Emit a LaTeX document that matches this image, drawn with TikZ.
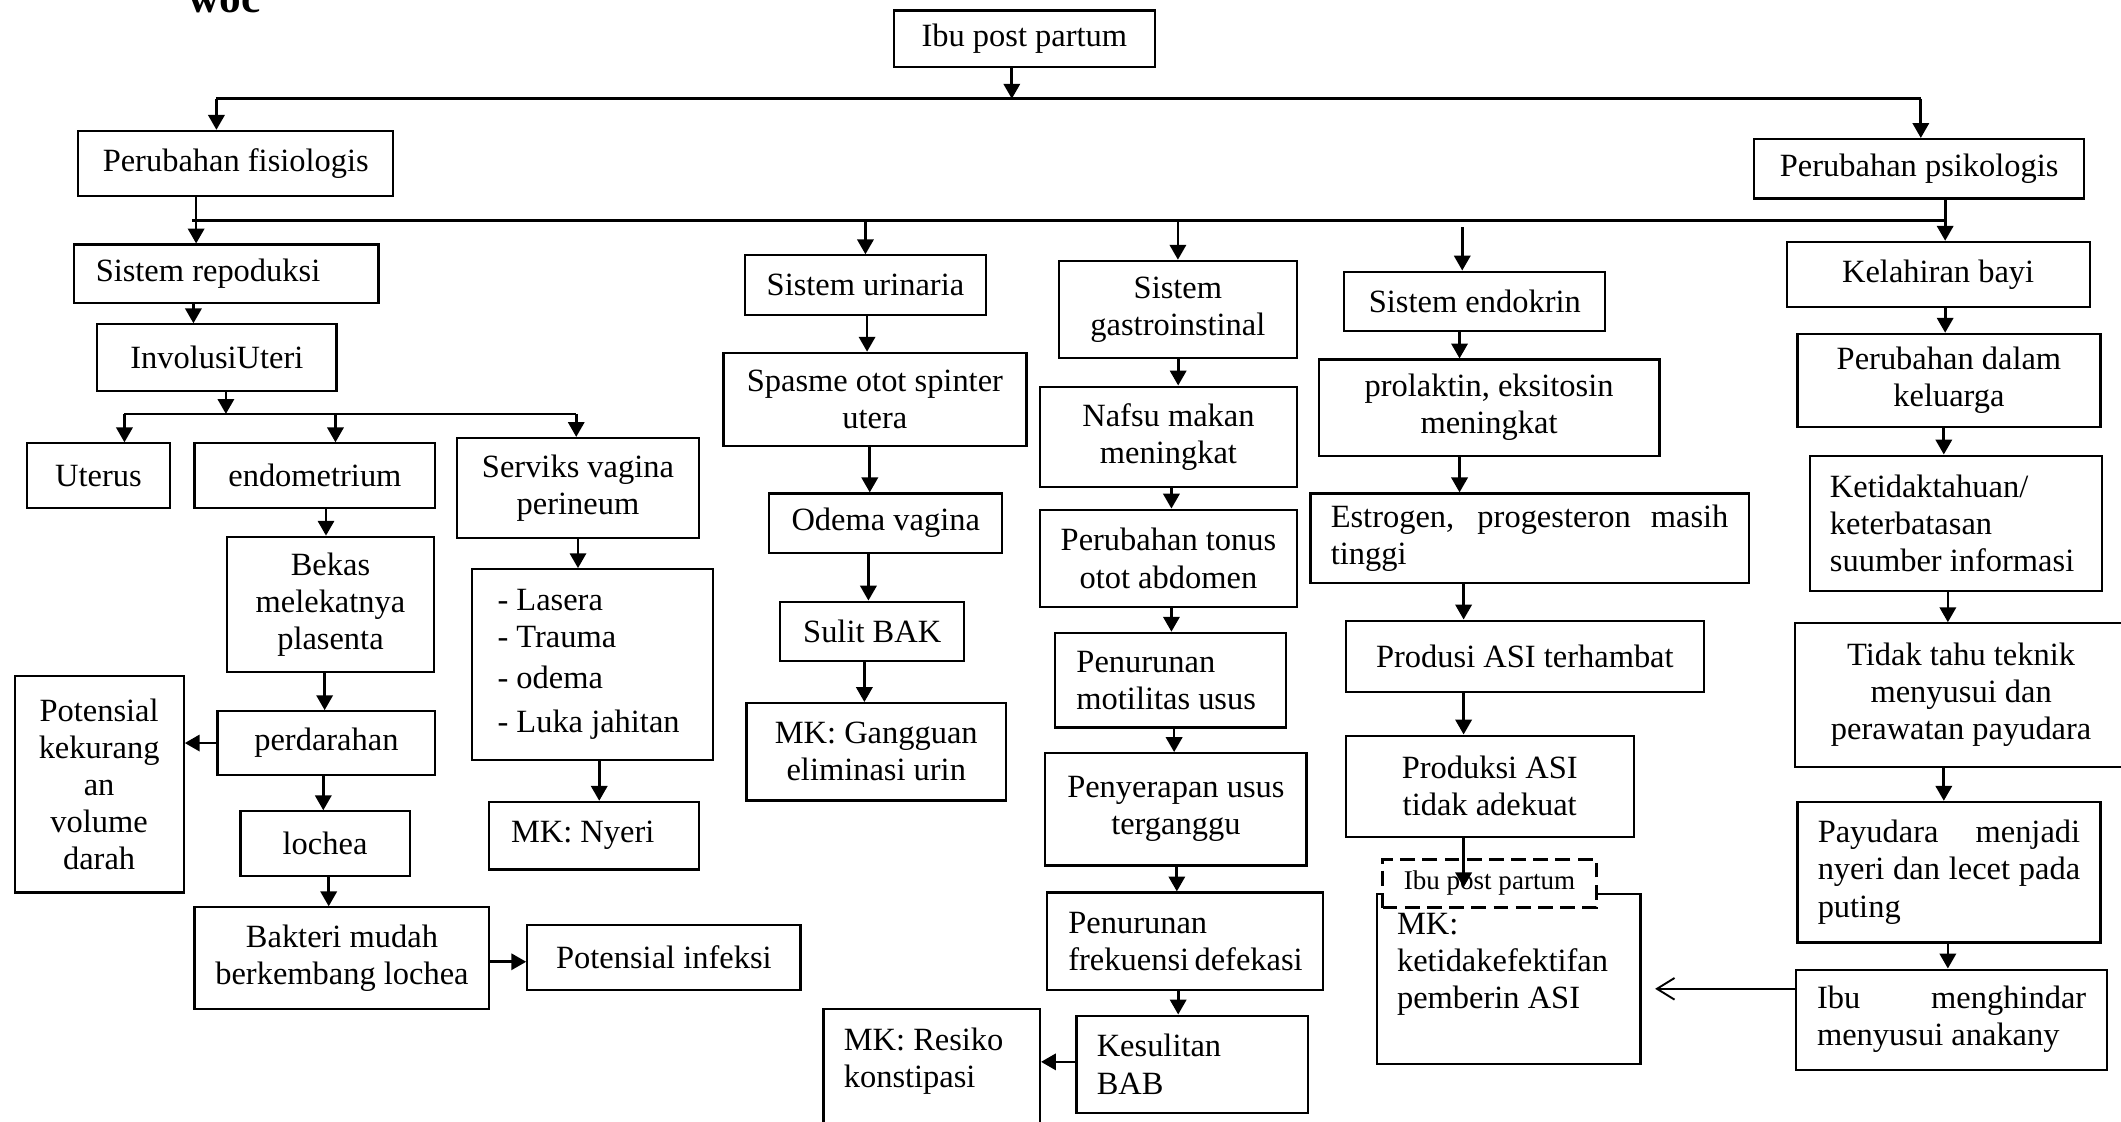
\documentclass[tikz,border=0pt]{standalone}
\usepackage{fontspec}
\setmainfont{Liberation Serif}
\usetikzlibrary{arrows.meta,positioning}
\hyphenpenalty=10000
\tolerance=10000

\begin{document}
\begin{tikzpicture}[
  x=0.5pt, y=-0.5pt,
  >={Triangle[length=5.5pt,width=6pt]},
  every node/.style={font=\fontsize{12}{13.7}\selectfont},
  box/.style={draw, line width=0.8pt, inner sep=0pt, align=center, anchor=north west},
  arr/.style={->, line width=1pt},
  bus/.style={line width=1pt},
  openarr/.style={-{Straight Barb[length=6.5pt,width=8pt]}, line width=0.7pt},
]
\useasboundingbox (0,0) rectangle (1568,829);

\node[font=\fontsize{16}{16}\selectfont\bfseries, anchor=base] (woc) at (166,9) {woc};

% top level
\node[box, minimum width=96.5pt, minimum height=21pt] (top) at (660,7) {Ibu post partum};
\node[box, minimum width=116.5pt, minimum height=24pt] (fis) at (57,96) {Perubahan fisiologis};
\node[box, minimum width=122pt, minimum height=22pt] (psi) at (1296,102) {Perubahan psikologis};

\coordinate (topdrop) at (748,73);
\coordinate (bus1L) at (160,73);
\coordinate (bus1R) at (1420,73);
\coordinate (bus2L) at (142,163);
\coordinate (bus2R) at (1438,163);
\coordinate (endoin) at (1081,168);

% systems
\node[box, align=flush left, inner xsep=8pt, text width=96.5pt, minimum width=112.5pt, minimum height=21.5pt] (srep) at (54,180) {Sistem repoduksi};
\node[box, minimum width=89pt, minimum height=22pt] (surin) at (550,188) {Sistem urinaria};
\node[box, minimum width=88pt, minimum height=36pt] (sgas) at (782,192) {Sistem\\gastroinstinal};
\node[box, minimum width=96.5pt, minimum height=22pt] (sendo) at (993,200) {Sistem endokrin};
\node[box, minimum width=112pt, minimum height=24pt] (kel) at (1320,178) {Kelahiran bayi};

% reproduksi
\node[box, minimum width=88.5pt, minimum height=24.5pt] (invol) at (71,239) {InvolusiUteri};
\coordinate (bus3L) at (92,306);
\coordinate (bus3M) at (167,306);
\coordinate (bus3R) at (426,306);
\node[box, minimum width=53pt, minimum height=24pt] (uterus) at (19,327) {Uterus};
\node[box, minimum width=89pt, minimum height=24pt] (endo) at (143,327) {endometrium};
\node[box, minimum width=89.5pt, minimum height=37pt] (serviks) at (337,323) {Serviks vagina\\perineum};
\node[box, minimum width=76.5pt, minimum height=50pt] (bekas) at (167,396) {Bekas\\melekatnya\\plasenta};
\node[box, align=flush left, inner xsep=9.5pt, text width=70pt, minimum width=89pt, minimum height=70.5pt] (list) at (348,420)
  {-~Lasera\\-~Trauma\\[1.3pt]-~odema\\[2.8pt]-~Luka~jahitan};
\node[box, minimum width=62.5pt, minimum height=80pt] (potkek) at (10,499) {Potensial\\kekurang\\an\\volume\\darah};
\node[box, minimum width=80.5pt, minimum height=23.5pt] (perd) at (160,525) {perdarahan};
\node[box, align=flush left, inner xsep=8pt, text width=61.5pt, minimum width=77.5pt, minimum height=25pt] (mknyeri) at (361,592) {MK:~Nyeri};
\node[box, minimum width=62.5pt, minimum height=24pt] (lochea) at (177,599) {lochea};
\node[box, minimum width=109pt, minimum height=37.5pt] (bakteri) at (143,670) {Bakteri mudah\\berkembang lochea};
\node[box, minimum width=101pt, minimum height=24pt] (potinf) at (389,683) {Potensial infeksi};

% urinaria
\node[box, minimum width=112pt, minimum height=34.5pt] (spasme) at (534,260) {Spasme otot spinter\\utera};
\node[box, minimum width=86pt, minimum height=22pt] (odema) at (568,364) {Odema vagina};
\node[box, minimum width=68pt, minimum height=22pt] (sulit) at (576,444) {Sulit BAK};
\node[box, minimum width=96pt, minimum height=36pt] (gang) at (551,519) {MK: Gangguan\\eliminasi urin};

% gastrointestinal
\node[box, minimum width=95pt, minimum height=37pt] (nafsu) at (768,285) {Nafsu makan\\meningkat};
\node[box, minimum width=95pt, minimum height=36pt] (tonus) at (768,376) {Perubahan tonus\\otot abdomen};
\node[box, align=flush left, inner xsep=8pt, text width=69.5pt, minimum width=85.5pt, minimum height=35pt] (motil) at (779,467) {Penurunan\\motilitas~usus};
\node[box, minimum width=96.5pt, minimum height=41.5pt] (penyer) at (772,556) {Penyerapan usus\\terganggu};
\node[box, align=flush left, inner xsep=8pt, text width=86pt, minimum width=102pt, minimum height=36pt] (frek) at (773,659) {Penurunan\\frekuensi~defekasi};
\node[box, align=flush left, inner xsep=7.5pt, text width=70.5pt, minimum width=85.5pt, minimum height=36pt] (kesulitan) at (795,750) {Kesulitan\\BAB};
\node[box, align=flush left, inner xsep=7.5pt, text width=65pt, minimum width=80pt, minimum height=50pt] (resiko) at (608,745) {MK:~Resiko\\konstipasi\\\mbox{}};

% endokrin
\node[box, minimum width=126pt, minimum height=35.5pt] (prol) at (974,265) {prolaktin, eksitosin\\meningkat};
\node[box, align=justify, inner xsep=7.5pt, text width=147pt, minimum width=162pt, minimum height=33pt] (estro) at (968,364) {Estrogen, progesteron masih tinggi};
\node[box, minimum width=132.5pt, minimum height=26.5pt] (produsi) at (994,458) {Produsi ASI terhambat};
\node[box, minimum width=106.5pt, minimum height=37.5pt] (produksi) at (994,543) {Produksi ASI\\tidak adekuat};
\node[box, align=flush left, inner xsep=7.5pt, text width=82.5pt, minimum width=97.5pt, minimum height=63pt] (mkasi) at (1017,660) {MK:\\ketidakefektifan\\pemberin~ASI\\\mbox{}};
\node[box, fill=white, dashed, dash pattern=on 5.5pt off 2.7pt, line width=1.1pt, font=\fontsize{10}{12}\selectfont,
  minimum width=79pt, minimum height=18pt] (dashbox) at (1021,634) {Ibu post partum};

% psikologis
\node[box, minimum width=112pt, minimum height=34.5pt] (pdk) at (1328,246) {Perubahan dalam\\keluarga};
\node[box, align=flush left, inner xsep=7.5pt, text width=93pt, minimum width=108pt, minimum height=50pt] (tahu) at (1337,336) {Ketidaktahuan/\\keterbatasan\\suumber~informasi};
\node[box, minimum width=123pt, minimum height=53pt] (tidak) at (1326,460) {Tidak tahu teknik\\menyusui dan\\perawatan payudara};
\node[box, align=justify, inner xsep=7.5pt, text width=97pt, minimum width=112pt, minimum height=52pt] (payu) at (1328,592) {Payudara menjadi nyeri dan lecet pada puting};
\node[box, align=justify, inner xsep=7.75pt, text width=99.5pt, minimum width=115pt, minimum height=37pt] (ibu) at (1327,716) {Ibu menghindar menyusui anakany};

% upper buses
\draw[arr] (top.south -| topdrop) -- (topdrop);
\draw[bus] (bus1L) -- (bus1R);
\draw[arr] (bus1L) -- (fis.north -| bus1L);
\draw[arr] (bus1R) -- (psi.north -| bus1R);
\draw[bus] (bus2L) -- (bus2R);
\draw[arr] (fis.south -| 145,0) -- (srep.north -| 145,0);
\draw[arr] (psi.south -| bus2R) -- (kel.north -| bus2R);
\draw[arr] (surin.north |- bus2L) -- (surin.north);
\draw[arr] (sgas.north |- bus2L) -- (sgas.north);
\draw[arr] (endoin) -- (sendo.north -| endoin);

% reproduksi flow
\draw[arr] (srep.south -| 143,0) -- (invol.north -| 143,0);
\draw[arr] (invol.south -| bus3M) -- (bus3M);
\draw[bus] (bus3L) -- (bus3R);
\draw[arr] (bus3L) -- (uterus.north -| bus3L);
\draw[arr] (bus3L -| 248,0) -- (endo.north -| 248,0);
\draw[arr] (bus3R) -- (serviks.north -| bus3R);
\draw[arr] (endo.south -| 241,0) -- (bekas.north -| 241,0);
\draw[arr] (bekas.south -| 240,0) -- (perd.north -| 240,0);
\draw[arr] (perd.west) -- (potkek.east |- perd.west);
\draw[arr] (perd.south -| 239,0) -- (lochea.north -| 239,0);
\draw[arr] (lochea.south -| 243,0) -- (bakteri.north -| 243,0);
\draw[arr] (bakteri.east |- 0,711) -- (potinf.west |- 0,711);
\draw[arr] (serviks.south) -- (serviks.south |- list.north);
\draw[arr] (list.south -| 443,0) -- (mknyeri.north -| 443,0);

% urinaria flow
\draw[arr] (surin.south -| 641,0) -- (spasme.north -| 641,0);
\draw[arr] (spasme.south -| 643,0) -- (odema.north -| 643,0);
\draw[arr] (odema.south -| 642,0) -- (sulit.north -| 642,0);
\draw[arr] (sulit.south -| 639,0) -- (gang.north -| 639,0);

% gastrointestinal flow
\draw[arr] (sgas.south -| 871,0) -- (nafsu.north -| 871,0);
\draw[arr] (nafsu.south -| 866,0) -- (tonus.north -| 866,0);
\draw[arr] (tonus.south -| 866,0) -- (motil.north -| 866,0);
\draw[arr] (motil.south -| 868,0) -- (penyer.north -| 868,0);
\draw[arr] (penyer.south -| 870,0) -- (frek.north -| 870,0);
\draw[arr] (frek.south -| 871,0) -- (kesulitan.north -| 871,0);
\draw[arr] (kesulitan.west |- 0,785) -- (resiko.east |- 0,785);

% endokrin flow
\draw[arr] (sendo.south -| 1079,0) -- (prol.north -| 1079,0);
\draw[arr] (prol.south -| 1079,0) -- (estro.north -| 1079,0);
\draw[arr] (estro.south -| 1082,0) -- (produsi.north -| 1082,0);
\draw[arr] (produsi.south -| 1082,0) -- (produksi.north -| 1082,0);
\draw[arr, shorten >=2pt] (produksi.south -| 1082,0) -- (mkasi.north -| 1082,0);

% psikologis flow
\draw[arr] (kel.south -| 1438,0) -- (pdk.north -| 1438,0);
\draw[arr] (pdk.south -| 1437,0) -- (tahu.north -| 1437,0);
\draw[arr] (tahu.south -| 1440,0) -- (tidak.north -| 1440,0);
\draw[arr] (tidak.south -| 1437,0) -- (payu.north -| 1437,0);
\draw[arr] (payu.south -| 1440,0) -- (ibu.north -| 1440,0);
\draw[openarr, shorten >=5pt] (ibu.west |- 0,731) -- (mkasi.east |- 0,731);
\end{tikzpicture}
\end{document}
